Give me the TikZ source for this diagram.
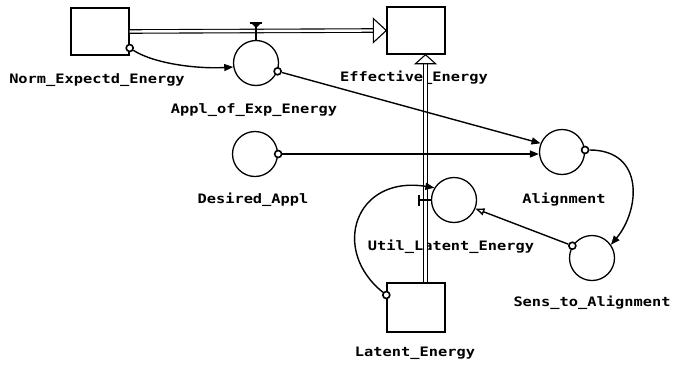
\documentclass[tikz,border=0pt]{standalone}
\usepackage{fontspec}
\newfontfamily\lblfont[FakeStretch=1.18]{DejaVu Sans Mono}
\usetikzlibrary{arrows.meta}
\begin{document}
\begin{tikzpicture}[x=1pt,y=-1pt,
  stock/.style={draw, line width=1.4pt, minimum width=58pt, minimum height=47pt, inner sep=0pt},
  conv/.style={draw, circle, line width=1.3pt, minimum size=45pt, inner sep=0pt},
  lbl/.style={font=\lblfont\bfseries\fontsize{13}{15}\selectfont, inner sep=0pt},
  pipe/.style={draw, line width=1.1pt, double=white, double distance=2.4pt},
  pipehead/.style={draw, fill=white, line width=1.1pt, line join=miter},
  conn/.style={line width=1.4pt, -{Triangle[length=9pt,width=7pt]}},
  connopen/.style={line width=1.4pt, -{Triangle[open,length=9pt,width=7pt]}},
  dot/.style={draw, circle, line width=1.6pt, minimum size=7pt, inner sep=0pt, fill=white},
]
\useasboundingbox (0,0) rectangle (674,367);

% stocks
\node[stock] (norm) at (100,31.5) {};
\node[stock] (eff)  at (416,30.5) {};
\node[stock, minimum height=49pt] (lat) at (416,307.5) {};

% converters
\node[conv] (appl) at (256,63) {};
\node[conv] (des)  at (255,154) {};
\node[conv] (ali)  at (562,152) {};
\node[conv] (util) at (454,200) {};
\node[conv] (sens) at (592,258) {};

% labels
\node[lbl] (lnorm) at (97,80)   {Norm\_Expectd\_Energy};
\node[lbl] (lappl) at (254,110) {Appl\_of\_Exp\_Energy};
\node[lbl] (leff)  at (414,78)  {Effective\_Energy};
\node[lbl] (ldes)  at (253,200) {Desired\_Appl};
\node[lbl] (lali)  at (564,200) {Alignment};
\node[lbl] (lutil) at (451,247) {Util\_Latent\_Energy};
\node[lbl] (lsens) at (592,303) {Sens\_to\_Alignment};
\node[lbl] (llat)  at (415,353) {Latent\_Energy};

% horizontal flow
\draw[pipe] (norm.east) -- ([xshift=-13pt]eff.west);
\draw[pipehead] ([xshift=-13pt,yshift=-12pt]eff.west) -- (eff.west) -- ([xshift=-13pt,yshift=12pt]eff.west) -- cycle;
% valve on horizontal flow
\coordinate (v1) at (256,23);
\draw[line width=1.3pt] (v1) -- (appl.north);
\draw[line width=1.5pt] ([xshift=-6pt]v1) -- ([xshift=6pt]v1);
\fill ([xshift=-5pt]v1) -- ([xshift=5pt]v1) -- ([yshift=-5pt]v1) -- cycle;

% vertical flow
\draw[pipe] ([xshift=9.5pt]lat.north) -- ([xshift=9.5pt,yshift=-9pt]eff.south);
\draw[pipehead] ([xshift=-0.5pt,yshift=-9pt]eff.south) -- ([xshift=9.5pt]eff.south) -- ([xshift=19.5pt,yshift=-9pt]eff.south) -- cycle;
% valve on vertical flow
\coordinate (v2) at (425.5,200);
\draw[line width=2.2pt] ([xshift=-6.5pt,yshift=-5.5pt]v2) -- ([xshift=-6.5pt,yshift=5.5pt]v2);
\draw[line width=1.4pt] ([xshift=-6.5pt]v2) -- ([xshift=5pt]v2);

% connector origins
\node[dot] (d1) at ([yshift=-16.5pt]norm.east) {};
\node[dot] (d2) at (appl.-21) {};
\node[dot] (d3) at (des.east) {};
\node[dot] (d4) at (ali.5) {};
\node[dot] (d5) at (sens.148) {};
\node[dot] (d6) at ([yshift=12.5pt]lat.west) {};

% connectors
\draw[conn] (d1) .. controls +(25,16) and +(-35,2) .. (appl.190);
\draw[conn] (d2) -- (ali.158);
\draw[conn] (d3) -- (d3 -| ali.west);
\draw[conn] (d4) .. controls (645,150) and (640,210) .. (sens.35);
\draw[connopen] (d5) -- (util.-22);
\draw[conn] (d6) .. controls (330,250) and (355,175) .. (util.148);
\end{tikzpicture}
\end{document}
